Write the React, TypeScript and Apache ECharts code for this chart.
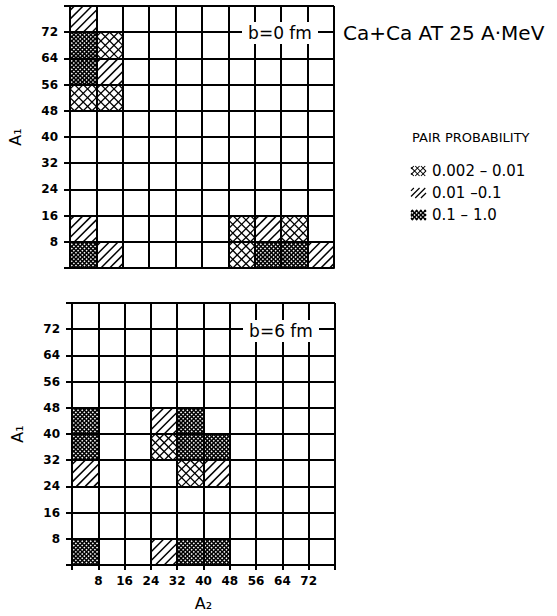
import React, { useEffect, useRef } from "react";
import * as echarts from "echarts";

// Fragment mass bins (width 8) on both axes
const BIN = 8;
const AXIS_MIN = 0;
const AXIS_MAX = 80;

// Probability classes, lowest to highest
const LEVEL_LABELS = ["0.002 \u2013 0.01", "0.01 \u20130.1", "0.1 \u2013 1.0"];

// b = 0 fm : [A2 bin start, A1 bin start, class]
const CENTRAL_A2 = [0, 0, 8, 0, 8, 0, 8, 0, 48, 56, 64, 0, 8, 48, 56, 64, 72];
const CENTRAL_A1 = [72, 64, 64, 56, 56, 48, 48, 8, 8, 8, 8, 0, 0, 0, 0, 0, 0];
const CENTRAL_LV = [1, 2, 0, 2, 1, 0, 0, 1, 0, 1, 0, 2, 1, 0, 2, 2, 1];

// b = 6 fm
const PERIPH_A2 = [0, 24, 32, 0, 24, 32, 40, 0, 32, 40, 0, 24, 32, 40];
const PERIPH_A1 = [40, 40, 40, 32, 32, 32, 32, 24, 24, 24, 0, 0, 0, 0];
const PERIPH_LV = [2, 1, 2, 2, 0, 2, 2, 1, 0, 1, 2, 1, 2, 2];

const PANEL_LABELS = ["b=0 fm", "b=6 fm"];
const TITLE = "Ca+Ca AT 25 A\u00b7MeV";
const LEGEND_TITLE = "PAIR PROBABILITY";

const FONT = "'DejaVu Sans', 'Liberation Sans', sans-serif";

function hatch(x0: number, y0: number, x1: number, y1: number, step: number, dir: number, style: any) {
  const out: any[] = [];
  const d = step * Math.SQRT2;
  if (dir > 0) {
    // '/' strokes: x + y = c
    for (let c = x0 + y0 + d / 2; c < x1 + y1; c += d) {
      const xs = Math.max(x0, c - y1);
      const xe = Math.min(x1, c - y0);
      if (xe - xs > 0.3) out.push({ type: "line", shape: { x1: xs, y1: c - xs, x2: xe, y2: c - xe }, style });
    }
  } else {
    // '\' strokes: x - y = c
    for (let c = x0 - y1 + d / 2; c < x1 - y0; c += d) {
      const xs = Math.max(x0, y0 + c);
      const xe = Math.min(x1, y1 + c);
      if (xe - xs > 0.3) out.push({ type: "line", shape: { x1: xs, y1: xs - c, x2: xe, y2: xe - c }, style });
    }
  }
  return out;
}

function patternShapes(level: number, x0: number, y0: number, x1: number, y1: number, scale = 1, z?: number) {
  const children: any[] = [
    { type: "rect", shape: { x: x0, y: y0, width: x1 - x0, height: y1 - y0 }, style: { fill: "#fff" } },
  ];
  if (level === 0) {
    const st = { stroke: "#000", lineWidth: 1.3 * Math.sqrt(scale) };
    children.push(...hatch(x0, y0, x1, y1, 6.2 * scale, 1, st), ...hatch(x0, y0, x1, y1, 6.2 * scale, -1, st));
  } else if (level === 1) {
    const st = { stroke: "#000", lineWidth: 1.5 * Math.sqrt(scale) };
    children.push(...hatch(x0, y0, x1, y1, 6.2 * scale, 1, st));
  } else {
    const st = { stroke: "#000", lineWidth: 1.5 };
    children.push(...hatch(x0, y0, x1, y1, 3, 1, st), ...hatch(x0, y0, x1, y1, 3, -1, st));
  }
  if (z !== undefined) children.forEach((c) => (c.z = z));
  return children;
}

function cellSeries(gridIndex: number, a2: number[], a1: number[], lv: number[]) {
  return {
    type: "custom",
    xAxisIndex: gridIndex,
    yAxisIndex: gridIndex,
    z: 1,
    encode: { x: 0, y: 1 },
    data: a2.map((v, i) => [v, a1[i], lv[i]]),
    renderItem: (params: any, api: any) => {
      const p0 = api.coord([api.value(0), api.value(1) + BIN]);
      const p1 = api.coord([api.value(0) + BIN, api.value(1)]);
      return { type: "group", children: patternShapes(api.value(2), p0[0], p0[1], p1[0], p1[1]) };
    },
  };
}

const tickFmt = (v: number) => (v === AXIS_MIN || v === AXIS_MAX ? "" : String(v));
const labelStyle = { color: "#000", fontFamily: FONT, fontWeight: "bold" as const, fontSize: 12 };

function xAxisFor(gridIndex: number, showLabels: boolean) {
  return {
    type: "value",
    gridIndex,
    min: AXIS_MIN,
    max: AXIS_MAX,
    interval: BIN,
    z: 3,
    name: showLabels ? "A\u2082" : "",
    nameLocation: "middle",
    nameGap: 30,
    nameTextStyle: { color: "#000", fontFamily: FONT, fontSize: 16 },
    axisLine: { lineStyle: { color: "#000", width: 2 } },
    axisTick: { show: showLabels, length: 5, lineStyle: { color: "#000", width: 2 } },
    axisLabel: { show: showLabels, formatter: tickFmt, margin: 10, ...labelStyle },
    splitLine: { show: true, lineStyle: { color: "#000", width: 2 } },
  };
}

function yAxisFor(gridIndex: number) {
  return {
    type: "value",
    gridIndex,
    min: AXIS_MIN,
    max: AXIS_MAX,
    interval: BIN,
    z: 3,
    name: "A\u2081",
    nameLocation: "middle",
    nameRotate: 90,
    nameGap: 47,
    nameTextStyle: { color: "#000", fontFamily: FONT, fontSize: 16 },
    axisLine: { lineStyle: { color: "#000", width: 2 } },
    axisTick: { show: true, length: 6, lineStyle: { color: "#000", width: 2 } },
    axisLabel: { formatter: tickFmt, margin: 12, ...labelStyle },
    splitLine: { show: true, lineStyle: { color: "#000", width: 2 } },
  };
}

function panelLabel(text: string, cx: number, cy: number) {
  return [
    {
      type: "rect",
      z: 10,
      shape: { x: cx - 38, y: cy - 11, width: 76, height: 22 },
      style: { fill: "#fff" },
    },
    {
      type: "text",
      z: 11,
      x: cx,
      y: cy,
      style: { text, fill: "#000", font: `17px ${FONT}`, align: "center", verticalAlign: "middle" },
    },
  ];
}

function legendItems() {
  const items: any[] = [];
  LEVEL_LABELS.forEach((label, i) => {
    const y = 171 + i * 22;
    items.push({ type: "group", z: 10, children: patternShapes(i, 411, y - 5, 426, y + 5, 0.65, 10) });
    items.push({
      type: "text",
      z: 10,
      x: 432,
      y,
      style: { text: label, fill: "#000", font: `15px ${FONT}`, verticalAlign: "middle" },
    });
  });
  return items;
}

export default function App() {
  const ref = useRef<HTMLDivElement>(null);
  useEffect(() => {
    if (!ref.current) return;
    const chart = echarts.init(ref.current, null, { renderer: "svg" });
    chart.setOption({
      animation: false,
      backgroundColor: "#fff",
      grid: [
        { left: 70, top: 6, width: 264, height: 262 },
        { left: 72, top: 303, width: 263, height: 262 },
      ],
      xAxis: [xAxisFor(0, false), xAxisFor(1, true)],
      yAxis: [yAxisFor(0), yAxisFor(1)],
      series: [
        cellSeries(0, CENTRAL_A2, CENTRAL_A1, CENTRAL_LV),
        cellSeries(1, PERIPH_A2, PERIPH_A1, PERIPH_LV),
      ],
      graphic: [
        ...panelLabel(PANEL_LABELS[0], 280, 33),
        ...panelLabel(PANEL_LABELS[1], 281, 331),
        {
          type: "text",
          z: 10,
          x: 343,
          y: 33,
          style: { text: TITLE, fill: "#000", font: `20px ${FONT}`, verticalAlign: "middle" },
        },
        {
          type: "text",
          z: 10,
          x: 412,
          y: 137,
          style: { text: LEGEND_TITLE, fill: "#000", font: `13px ${FONT}`, verticalAlign: "middle" },
        },
        ...legendItems(),
      ],
    });
    return () => chart.dispose();
  }, []);
  return <div ref={ref} style={{ position: "fixed", left: 0, top: 0, width: 557, height: 616 }} />;
}
